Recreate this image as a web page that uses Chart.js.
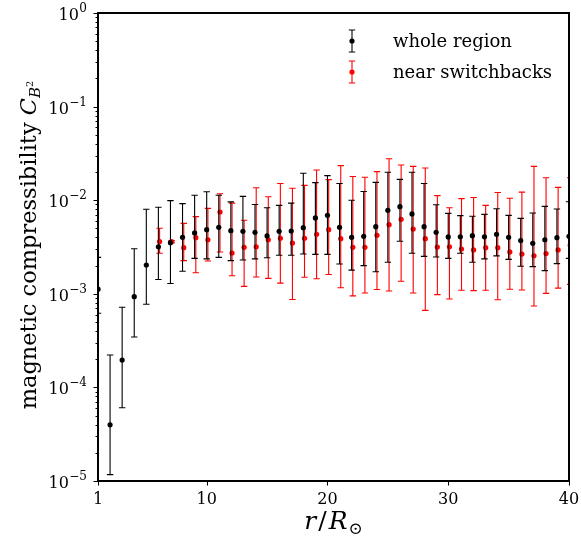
<!DOCTYPE html>
<html>
<head>
<meta charset="utf-8">
<script src="https://cdn.jsdelivr.net/npm/chart.js@4/dist/chart.umd.min.js"></script>
<style>
  html, body { margin: 0; padding: 0; background: #fff; }
</style>
</head>
<body>
<canvas id="chart" width="581" height="549"></canvas>
<script>
// radial distance bins, r / R_sun
var rWhole = [1, 2, 3, 4, 5, 6, 7, 8, 9, 10, 11, 12, 13, 14, 15, 16, 17, 18, 19, 20,
              21, 22, 23, 24, 25, 26, 27, 28, 29, 30, 31, 32, 33, 34, 35, 36, 37, 38, 39, 40];
var cWhole = [1.12e-3, 3.98e-5, 1.96e-4, 9.31e-4, 2.03e-3, 3.18e-3, 3.52e-3, 4.01e-3, 4.47e-3, 4.84e-3,
              5.13e-3, 4.72e-3, 4.65e-3, 4.54e-3, 4.15e-3, 4.65e-3, 4.69e-3, 5.09e-3, 6.46e-3, 6.89e-3,
              5.13e-3, 4.01e-3, 4.11e-3, 5.21e-3, 7.80e-3, 8.53e-3, 7.13e-3, 5.21e-3, 4.54e-3, 4.05e-3,
              4.07e-3, 4.18e-3, 4.07e-3, 4.32e-3, 4.01e-3, 3.70e-3, 3.46e-3, 3.78e-3, 3.98e-3, 4.11e-3];
var cWholeLo = [6.2e-4, 1.17e-5, 6.07e-5, 3.45e-4, 7.73e-4, 1.42e-3, 1.29e-3, 1.74e-3, 2.39e-3, 2.36e-3,
                2.45e-3, 2.26e-3, 2.30e-3, 2.36e-3, 2.43e-3, 2.58e-3, 2.58e-3, 2.66e-3, 2.64e-3, 2.64e-3,
                2.08e-3, 1.79e-3, 2.00e-3, 1.72e-3, 2.17e-3, 3.64e-3, 2.71e-3, 2.51e-3, 2.47e-3, 2.39e-3,
                2.71e-3, 2.17e-3, 2.36e-3, 2.54e-3, 2.33e-3, 1.97e-3, 1.95e-3, 1.77e-3, 2.10e-3, 2.39e-3];
var cWholeHi = [2.45e-3, 2.22e-4, 7.18e-4, 3.03e-3, 8.0e-3, 8.4e-3, 9.9e-3, 9.2e-3, 1.13e-2, 1.23e-2,
                1.13e-2, 9.6e-3, 1.10e-2, 9.0e-3, 8.3e-3, 8.8e-3, 9.3e-3, 1.94e-2, 1.54e-2, 1.83e-2,
                1.51e-2, 1.00e-2, 1.24e-2, 1.55e-2, 1.99e-2, 1.67e-2, 1.99e-2, 1.51e-2, 8.95e-3, 7.24e-3,
                6.84e-3, 6.73e-3, 7.06e-3, 8.11e-3, 6.89e-3, 6.40e-3, 7.29e-3, 8.59e-3, 8.05e-3, 9.64e-3];

var rSwitch = [6.1, 7.1, 8.1, 9.1, 10.1, 11.1, 12.1, 13.1, 14.1, 15.1, 16.1, 17.1, 18.1, 19.1, 20.1,
               21.1, 22.1, 23.1, 24.1, 25.1, 26.1, 27.1, 28.1, 29.1, 30.1, 31.1, 32.1, 33.1, 34.1, 35.1,
               36.1, 37.1, 38.1, 39.1, 40.1];
var cSwitch = [3.61e-3, 3.61e-3, 3.11e-3, 3.98e-3, 3.78e-3, 7.48e-3, 2.73e-3, 3.14e-3, 3.18e-3, 3.78e-3,
               3.92e-3, 3.49e-3, 3.92e-3, 4.32e-3, 4.84e-3, 3.88e-3, 3.14e-3, 3.14e-3, 4.22e-3, 5.48e-3,
               6.25e-3, 4.92e-3, 3.88e-3, 3.16e-3, 3.18e-3, 3.01e-3, 2.94e-3, 3.11e-3, 3.11e-3, 2.80e-3,
               2.66e-3, 2.55e-3, 2.69e-3, 2.94e-3, 3.30e-3];
var cSwitchLo = [2.71e-3, 3.5e-3, 2.26e-3, 1.68e-3, 2.24e-3, 2.80e-3, 1.56e-3, 1.20e-3, 1.51e-3, 1.46e-3,
                 1.30e-3, 8.7e-4, 1.50e-3, 1.45e-3, 1.61e-3, 1.16e-3, 9.5e-4, 1.02e-3, 1.11e-3, 1.07e-3,
                 1.36e-3, 1.02e-3, 6.65e-4, 9.8e-4, 8.8e-4, 1.09e-3, 1.08e-3, 1.09e-3, 8.65e-4, 1.12e-3,
                 1.10e-3, 7.4e-4, 1.01e-3, 1.15e-3, 1.26e-3];
var cSwitchHi = [5.01e-3, 3.7e-3, 5.66e-3, 6.67e-3, 8.18e-3, 1.17e-2, 9.3e-3, 6.10e-3, 1.36e-2, 1.09e-2,
                 1.51e-2, 1.34e-2, 1.44e-2, 2.10e-2, 1.66e-2, 2.34e-2, 1.79e-2, 1.76e-2, 2.02e-2, 2.77e-2,
                 2.38e-2, 2.30e-2, 2.21e-2, 1.12e-2, 8.3e-3, 1.04e-2, 1.07e-2, 8.8e-3, 1.21e-2, 1.05e-2,
                 1.22e-2, 2.30e-2, 1.74e-2, 1.37e-2, 1.74e-2];

// axis ticks
var xTicks = [1, 10, 20, 30, 40];
var yTicks = [1, 1e-1, 1e-2, 1e-3, 1e-4, 1e-5];
var yTickExp = ['0', '\u22121', '\u22122', '\u22123', '\u22124', '\u22125'];

var SERIF = '"DejaVu Serif", serif';

function points(xs, ys, lo, hi) {
  var out = [];
  for (var i = 0; i < xs.length; i++) {
    out.push({ x: xs[i], y: ys[i], lo: lo[i], hi: hi[i] });
  }
  return out;
}

// error bars, drawn just before each dataset's markers (matplotlib order)
var errorBars = {
  id: 'errorBars',
  beforeDatasetDraw: function(chart, args) {
    var ds = chart.data.datasets[args.index];
    var xs = chart.scales.x, ys = chart.scales.y, a = chart.chartArea;
    var ctx = chart.ctx;
    ctx.save();
    ctx.beginPath();
    ctx.rect(a.left, a.top, a.right - a.left, a.bottom - a.top);
    ctx.clip();
    ctx.strokeStyle = ds.backgroundColor;
    ctx.lineWidth = 1.1;
    ds.data.forEach(function(p) {
      var px = xs.getPixelForValue(p.x);
      var top = ys.getPixelForValue(p.hi);
      var bot = ys.getPixelForValue(p.lo);
      ctx.beginPath();
      ctx.moveTo(px, top); ctx.lineTo(px, bot);
      ctx.moveTo(px - 3.2, top); ctx.lineTo(px + 3.2, top);
      ctx.moveTo(px - 3.2, bot); ctx.lineTo(px + 3.2, bot);
      ctx.stroke();
    });
    ctx.restore();
  }
};

// frame, ticks, tick labels, axis titles and legend
var axesDecor = {
  id: 'axesDecor',
  afterDraw: function(chart) {
    var ctx = chart.ctx, a = chart.chartArea;
    var xs = chart.scales.x, ys = chart.scales.y;
    ctx.save();
    ctx.fillStyle = '#000';
    ctx.strokeStyle = '#000';

    // ticks
    ctx.lineWidth = 1;
    ctx.beginPath();
    xTicks.forEach(function(v) {
      var px = Math.round(xs.getPixelForValue(v)) + 0.5;
      ctx.moveTo(px, a.bottom); ctx.lineTo(px, a.bottom + 4.5);
    });
    yTicks.forEach(function(v) {
      var py = Math.round(ys.getPixelForValue(v)) + 0.5;
      ctx.moveTo(a.left, py); ctx.lineTo(a.left - 4.5, py);
    });
    for (var e = -5; e < 0; e++) {
      for (var k = 2; k <= 9; k++) {
        var py = Math.round(ys.getPixelForValue(k * Math.pow(10, e))) + 0.5;
        ctx.moveTo(a.left, py); ctx.lineTo(a.left - 2.5, py);
      }
    }
    ctx.stroke();

    // frame
    ctx.lineWidth = 2;
    ctx.strokeRect(a.left, a.top, a.right - a.left, a.bottom - a.top);

    // x tick labels
    ctx.font = '16px ' + SERIF;
    ctx.textAlign = 'center';
    ctx.textBaseline = 'alphabetic';
    xTicks.forEach(function(v) {
      ctx.fillText(String(v), xs.getPixelForValue(v), a.bottom + 23);
    });

    // y tick labels: 10 with a superscript exponent
    yTicks.forEach(function(v, i) {
      var py = ys.getPixelForValue(v);
      ctx.font = '12px ' + SERIF;
      var ew = ctx.measureText(yTickExp[i]).width;
      var right = a.left - 11;
      ctx.textAlign = 'left';
      ctx.fillText(yTickExp[i], right - ew, py - 1);
      ctx.font = '16px ' + SERIF;
      ctx.textAlign = 'right';
      ctx.fillText('10', right - ew - 0.5, py + 7);
    });

    // x title: r / R_sun
    var xParts = [
      { t: 'r', f: 'italic 25px ' + SERIF, dy: 0, gap: 2 },
      { t: '/', f: '25px ' + SERIF, dy: 0, gap: 2 },
      { t: 'R', f: 'italic 25px ' + SERIF, dy: 0, gap: 1 },
      { t: '\u2299', f: '17px ' + SERIF, dy: 5, gap: 0 }
    ];
    drawRich(ctx, xParts, (a.left + a.right) / 2, 529);

    // y title, rotated
    ctx.save();
    ctx.translate(36, (a.top + a.bottom) / 2 - 2);
    ctx.rotate(-Math.PI / 2);
    var yParts = [
      { t: 'magnetic compressibility ', f: '22.5px ' + SERIF, dy: 0, gap: 0 },
      { t: 'C', f: 'italic 22.5px ' + SERIF, dy: 0, gap: 0 },
      { t: 'B', f: 'italic 15px ' + SERIF, dy: 4, gap: 0 },
      { t: '2', f: '10px ' + SERIF, dy: -3, gap: 0 }
    ];
    drawRich(ctx, yParts, 0, 0);
    ctx.restore();

    // legend
    var ds = chart.data.datasets;
    var rows = [41, 72];
    ds.forEach(function(d, i) {
      var cy = rows[i], cx = 352;
      ctx.strokeStyle = d.backgroundColor;
      ctx.fillStyle = d.backgroundColor;
      ctx.lineWidth = 1.1;
      ctx.beginPath();
      ctx.moveTo(cx, cy - 11); ctx.lineTo(cx, cy + 11);
      ctx.moveTo(cx - 3.2, cy - 11); ctx.lineTo(cx + 3.2, cy - 11);
      ctx.moveTo(cx - 3.2, cy + 11); ctx.lineTo(cx + 3.2, cy + 11);
      ctx.stroke();
      ctx.beginPath();
      ctx.arc(cx, cy, 2.6, 0, Math.PI * 2);
      ctx.fill();
      ctx.fillStyle = '#000';
      ctx.font = '18px ' + SERIF;
      ctx.textAlign = 'left';
      ctx.fillText(d.label, 393, cy + 6);
    });

    ctx.restore();
  }
};

function drawRich(ctx, parts, cx, baseline) {
  var w = 0;
  parts.forEach(function(p) { ctx.font = p.f; p.w = ctx.measureText(p.t).width; w += p.w + p.gap; });
  var x = cx - w / 2;
  ctx.textAlign = 'left';
  ctx.textBaseline = 'alphabetic';
  parts.forEach(function(p) {
    ctx.font = p.f;
    ctx.fillText(p.t, x, baseline + p.dy);
    x += p.w + p.gap;
  });
}

new Chart(document.getElementById('chart'), {
  type: 'scatter',
  data: {
    datasets: [
      {
        label: 'whole region',
        data: points(rWhole, cWhole, cWholeLo, cWholeHi),
        backgroundColor: '#000000',
        borderWidth: 0,
        pointRadius: 2.6,
        clip: 0
      },
      {
        label: 'near switchbacks',
        data: points(rSwitch, cSwitch, cSwitchLo, cSwitchHi),
        backgroundColor: '#ff0000',
        borderWidth: 0,
        pointRadius: 2.6,
        clip: 0
      }
    ]
  },
  options: {
    responsive: false,
    animation: false,
    layout: { padding: { left: 98, right: 12, top: 13, bottom: 68 } },
    plugins: {
      legend: { display: false },
      tooltip: { enabled: false }
    },
    scales: {
      x: { type: 'linear', min: 1, max: 40, display: false },
      y: { type: 'logarithmic', min: 1e-5, max: 1, display: false }
    }
  },
  plugins: [errorBars, axesDecor]
});
</script>
</body>
</html>
